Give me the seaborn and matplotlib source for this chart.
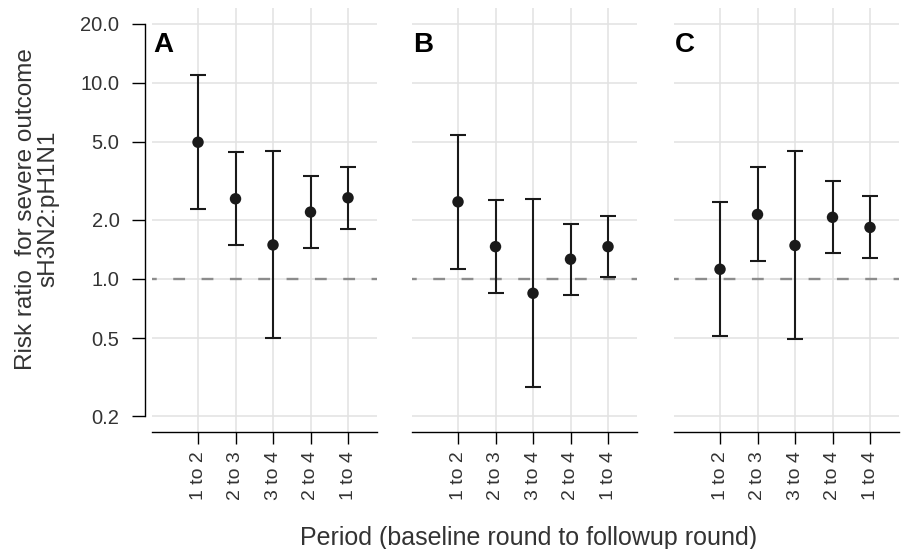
import numpy as np
import pandas as pd
import matplotlib
matplotlib.use("Agg")
import matplotlib.pyplot as plt
import seaborn as sns
from matplotlib.ticker import FixedLocator, NullLocator

# risk ratios with 95% CI
periods = ["1 to 2", "2 to 3", "3 to 4", "2 to 4", "1 to 4"]
panels = ["A", "B", "C"]

rr_a = [4.97, 2.56, 1.49, 2.19, 2.59]
lo_a = [2.27, 1.48, 0.50, 1.44, 1.80]
hi_a = [10.9, 4.43, 4.49, 3.35, 3.72]

rr_b = [2.47, 1.46, 0.845, 1.26, 1.46]
lo_b = [1.12, 0.845, 0.282, 0.826, 1.02]
hi_b = [5.44, 2.52, 2.55, 1.91, 2.09]

rr_c = [1.12, 2.13, 1.48, 2.06, 1.83]
lo_c = [0.51, 1.23, 0.496, 1.36, 1.28]
hi_c = [2.47, 3.70, 4.46, 3.16, 2.64]

y_ticks = [0.2, 0.5, 1.0, 2.0, 5.0, 10.0, 20.0]
y_ticklabels = ["0.2", "0.5", "1.0", "2.0", "5.0", "10.0", "20.0"]

df = pd.DataFrame({
    "panel": np.repeat(panels, len(periods)),
    "period": periods * len(panels),
    "rr": rr_a + rr_b + rr_c,
    "lo": lo_a + lo_b + lo_c,
    "hi": hi_a + hi_b + hi_c,
})

sns.set_theme(style="whitegrid")
plt.rcParams["font.family"] = ["Liberation Sans", "DejaVu Sans"]

ink = "#1a1a1a"
text_col = "#333333"

fig = plt.figure(figsize=(9.09, 5.49), dpi=100)
W, H = 909.0, 549.0
left_px = [152, 412, 674]
width_px = 225
bottom = 1 - 432 / H
height = (432 - 8) / H

for i, p in enumerate(panels):
    ax = fig.add_axes([left_px[i] / W, bottom, width_px / W, height])
    ax.set_yscale("log")
    sub = df[df["panel"] == p].reset_index(drop=True)
    pos = np.arange(len(sub))

    ax.axhline(1.0, color="#8c8c8c", lw=1.7, ls=(3, (5, 7)), zorder=1.5)
    ax.errorbar(pos, sub["rr"], yerr=[sub["rr"] - sub["lo"], sub["hi"] - sub["rr"]],
                fmt="none", ecolor=ink, elinewidth=1.5, capsize=6, capthick=1.5, zorder=3)
    sns.scatterplot(x=pos, y=sub["rr"].values, ax=ax, color=ink, s=68,
                    edgecolor="none", linewidth=0, zorder=4, legend=False)

    ax.set_xlim(-1.227, 4.773)
    ax.set_ylim(0.166, 24)
    ax.set_xticks(pos)
    ax.set_xticklabels(sub["period"], rotation=90)
    ax.yaxis.set_major_locator(FixedLocator(y_ticks))
    ax.yaxis.set_minor_locator(NullLocator())

    ax.grid(True, which="major", color="#e2e2e2", lw=1.1)
    ax.set_axisbelow(True)
    for side in ["top", "right"]:
        ax.spines[side].set_visible(False)
    ax.spines["bottom"].set_color("black")
    ax.spines["bottom"].set_linewidth(1.0)
    ax.tick_params(axis="x", bottom=True, length=8.6, width=1.0, color="black",
                   labelsize=14, labelcolor=text_col, pad=5)

    if i == 0:
        ax.spines["left"].set_visible(True)
        ax.spines["left"].set_color("black")
        ax.spines["left"].set_linewidth(1.0)
        ax.spines["left"].set_position(("outward", 5))
        ax.spines["left"].set_bounds(0.2, 20)
        ax.set_yticklabels(y_ticklabels)
        ax.tick_params(axis="y", left=True, length=9.4, width=1.0, color="black",
                       labelsize=14.5, labelcolor=text_col, pad=9)
    else:
        ax.spines["left"].set_visible(False)
        ax.tick_params(axis="y", left=False, labelleft=False)

    ax.set_xlabel("")
    ax.set_ylabel("")
    ax.text(0.005, 0.913, p, transform=ax.transAxes, fontsize=20, fontweight="bold",
            ha="left", va="center", color="black")

fig.text(0.582, 0.02, "Period (baseline round to followup round)", ha="center",
         va="center", fontsize=18, color=text_col)
fig.text(0.041, 0.619, "Risk ratio  for severe outcome\nsH3N2:pH1N1", ha="center",
         va="center", rotation=90, fontsize=17.5, color=text_col, multialignment="center",
         linespacing=1.0)

fig.savefig("out.png", dpi=100)
